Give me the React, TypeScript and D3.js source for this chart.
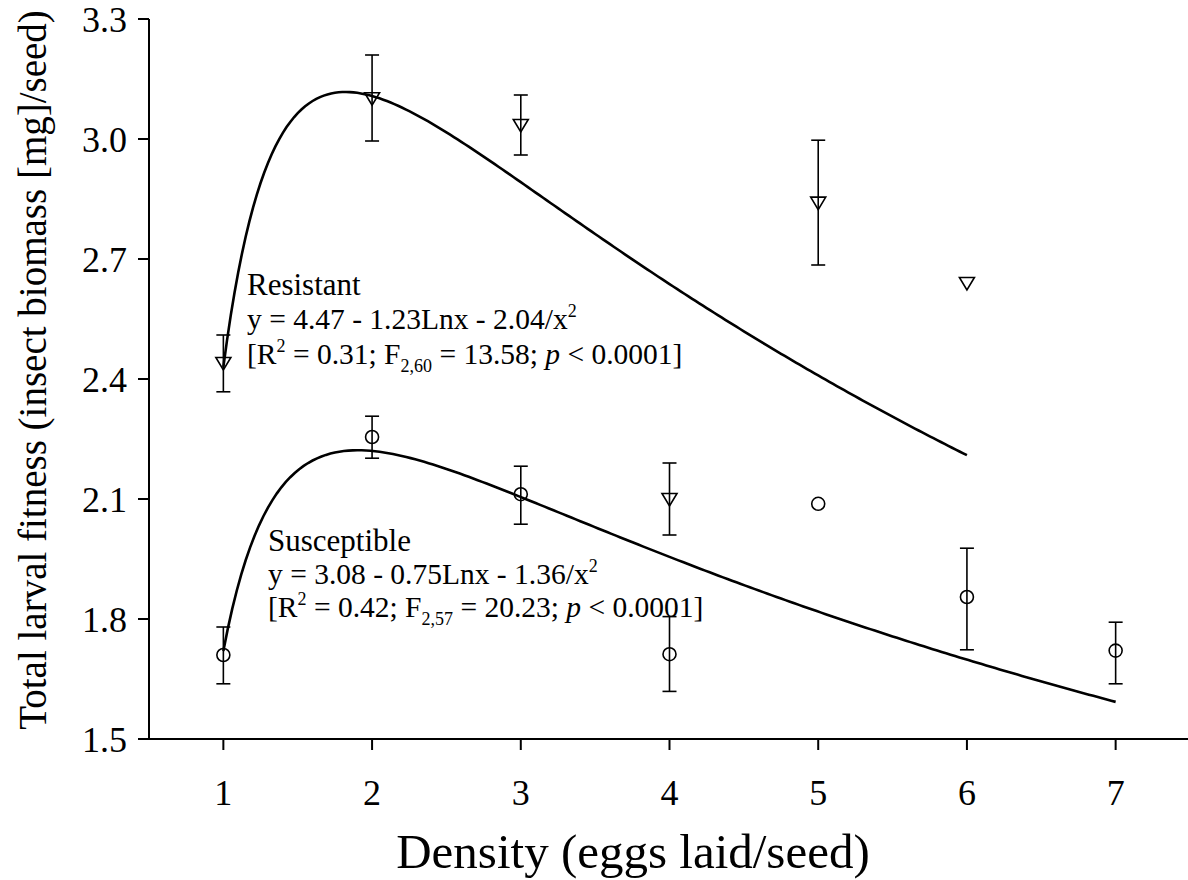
import React from "react";
import * as d3 from "d3";

// Density (eggs laid per seed)
const resistantX = [1, 2, 3, 4, 5, 6];
const resistantMean = [2.44, 3.102, 3.035, 2.1, 2.841, 2.64];
const resistantUpper = [2.51, 3.21, 3.11, 2.19, 2.997, null];
const resistantLower = [2.368, 2.995, 2.96, 2.01, 2.685, null];

const susceptibleX = [1, 2, 3, 4, 5, 6, 7];
const susceptibleMean = [1.71, 2.255, 2.112, 1.712, 2.088, 1.855, 1.721];
const susceptibleUpper = [1.78, 2.307, 2.182, 1.806, null, 1.977, 1.792];
const susceptibleLower = [1.638, 2.202, 2.037, 1.619, null, 1.723, 1.638];

// Fitted model y = a - b*ln(x) - c/x^2
const resistantCoef = [4.47, 1.23, 2.04];
const susceptibleCoef = [3.08, 0.75, 1.36];
const resistantRange = [1, 6];
const susceptibleRange = [1, 7];

const xTicks = [1, 2, 3, 4, 5, 6, 7];
const yTicks = [1.5, 1.8, 2.1, 2.4, 2.7, 3.0, 3.3];

const W = 1188;
const H = 880;
const FONT = "'Liberation Serif', 'Times New Roman', serif";

const x = d3.scaleLinear().domain([0.5, 7.5]).range([149, 1190]);
const y = d3.scaleLinear().domain([1.5, 3.3]).range([739, 19]);

function fitCurve(coef: number[], range: number[]) {
  const [a, b, c] = coef;
  const pts: [number, number][] = [];
  const n = 200;
  for (let i = 0; i <= n; i++) {
    const xv = range[0] + ((range[1] - range[0]) * i) / n;
    pts.push([xv, a - b * Math.log(xv) - c / (xv * xv)]);
  }
  return pts;
}

const line = d3
  .line<[number, number]>()
  .x((d) => x(d[0]))
  .y((d) => y(d[1]))
  .curve(d3.curveLinear);

function ErrorBars({ xs, up, lo }: { xs: number[]; up: (number | null)[]; lo: (number | null)[] }) {
  return (
    <g stroke="#000" strokeWidth={1.6}>
      {xs.map((xv, i) => {
        const u = up[i];
        const l = lo[i];
        if (u == null || l == null) return null;
        const cx = x(xv);
        return (
          <g key={i}>
            <line x1={cx} x2={cx} y1={y(u)} y2={y(l)} />
            <line x1={cx - 7} x2={cx + 7} y1={y(u)} y2={y(u)} />
            <line x1={cx - 7} x2={cx + 7} y1={y(l)} y2={y(l)} />
          </g>
        );
      })}
    </g>
  );
}

function StatsLine({ x0, y0, r2, df, f }: { x0: number; y0: number; r2: string; df: string; f: string }) {
  return (
    <text x={x0} y={y0} fontSize={29.5}>
      [R<tspan fontSize={18} dy={-12}>2</tspan>
      <tspan dy={12}> = {r2}; F</tspan>
      <tspan fontSize={18} dy={8}>{df}</tspan>
      <tspan dy={-8}> = {f}; </tspan>
      <tspan fontStyle="italic">p</tspan>
      <tspan> &lt; 0.0001]</tspan>
    </text>
  );
}

export default function App() {
  const triPath = (cx: number, cy: number) =>
    `M${cx - 7.5},${cy - 5.5}L${cx + 7.5},${cy - 5.5}L${cx},${cy + 7}Z`;

  return (
    <svg
      width={W}
      height={H}
      style={{ position: "absolute", left: 0, top: 0, background: "#fff" }}
      fontFamily={FONT}
    >
      <rect width={W} height={H} fill="#fff" />

      {/* axes */}
      <g stroke="#000" strokeWidth={2}>
        <line x1={x(0.5)} x2={x(0.5)} y1={y(3.3)} y2={y(1.5)} />
        <line x1={x(0.5) - 11} x2={x(7.5)} y1={y(1.5)} y2={y(1.5)} />
        {yTicks.map((t) => (
          <line key={t} x1={x(0.5) - 11} x2={x(0.5)} y1={y(t)} y2={y(t)} />
        ))}
        {xTicks.map((t) => (
          <line key={t} x1={x(t)} x2={x(t)} y1={y(1.5)} y2={y(1.5) + 11} />
        ))}
      </g>
      <g fontSize={36} fill="#000">
        {yTicks.map((t) => (
          <text key={t} x={x(0.5) - 22} y={y(t) + 12.5} textAnchor="end">
            {d3.format(".1f")(t)}
          </text>
        ))}
        {xTicks.map((t) => (
          <text key={t} x={x(t)} y={y(1.5) + 66} textAnchor="middle">
            {t}
          </text>
        ))}
      </g>

      {/* axis titles */}
      <text x={633} y={868} fontSize={49} textAnchor="middle">
        Density (eggs laid/seed)
      </text>
      <text
        transform={`translate(46,370) rotate(-90)`}
        fontSize={39}
        textAnchor="middle"
      >
        Total larval fitness (insect biomass [mg]/seed)
      </text>

      {/* fitted curves */}
      <path d={line(fitCurve(resistantCoef, resistantRange)) || ""} fill="none" stroke="#000" strokeWidth={2.6} />
      <path d={line(fitCurve(susceptibleCoef, susceptibleRange)) || ""} fill="none" stroke="#000" strokeWidth={2.6} />

      {/* error bars */}
      <ErrorBars xs={resistantX} up={resistantUpper} lo={resistantLower} />
      <ErrorBars xs={susceptibleX} up={susceptibleUpper} lo={susceptibleLower} />

      {/* points */}
      <g fill="none" stroke="#000" strokeWidth={1.6}>
        {resistantX.map((xv, i) => (
          <path key={i} d={triPath(x(xv), y(resistantMean[i]))} />
        ))}
        {susceptibleX.map((xv, i) => (
          <circle key={i} cx={x(xv)} cy={y(susceptibleMean[i])} r={6.5} />
        ))}
      </g>

      {/* model annotations */}
      <g fill="#000">
        <text x={247} y={295} fontSize={31}>Resistant</text>
        <text x={247} y={329} fontSize={29.5}>
          y = 4.47 - 1.23Lnx - 2.04/x<tspan fontSize={18} dy={-12}>2</tspan>
        </text>
        <StatsLine x0={247} y0={364} r2="0.31" df="2,60" f="13.58" />

        <text x={268} y={551} fontSize={31}>Susceptible</text>
        <text x={268} y={584} fontSize={29.5}>
          y = 3.08 - 0.75Lnx - 1.36/x<tspan fontSize={18} dy={-12}>2</tspan>
        </text>
        <StatsLine x0={268} y0={617} r2="0.42" df="2,57" f="20.23" />
      </g>
    </svg>
  );
}
